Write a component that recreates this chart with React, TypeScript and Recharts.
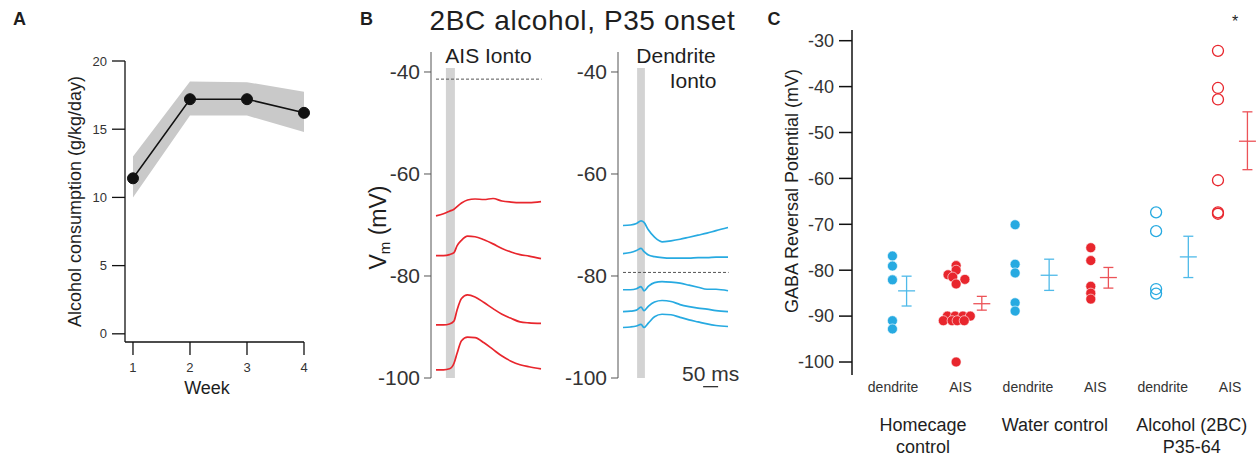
import React from 'react';
import {
  Area, ComposedChart, ErrorBar, Label, Line, LineChart, ReferenceArea, ReferenceLine,
  Scatter, ScatterChart, XAxis, YAxis,
} from 'recharts';

const FONT = '"Liberation Sans", Arial, Helvetica, sans-serif';
const INK = '#1e1e1e';
const RED = '#e8262d';
const BLUE = '#27aae1';
const RED_LIGHT = '#ec5358';
const BLUE_LIGHT = '#4fbae9';

// A: 2BC alcohol intake per week
const weeks = [1, 2, 3, 4];
const consumption = [11.4, 17.2, 17.2, 16.2];
const consumptionLow = [10.0, 16.0, 16.0, 14.8];
const consumptionHigh = [13.0, 18.5, 18.45, 17.75];
const consumptionTicks = [0, 5, 10, 15, 20];

// B: example iontophoresis traces, time in ms, Vm in mV
const traceTimes = [0, 25, 45, 60, 70, 85, 105, 130, 160, 190, 220, 250, 280, 310, 350];
const aisTraces = [
  [-68.2, -67.8, -67.3, -66.9, -66.4, -65.7, -65.1, -64.9, -65.0, -64.8, -65.3, -65.5, -65.6, -65.6, -65.4],
  [-76.0, -76.0, -75.8, -75.4, -74.1, -73.0, -72.2, -72.3, -72.9, -73.7, -74.6, -75.3, -75.8, -76.1, -76.6],
  [-89.6, -89.6, -89.4, -88.8, -86.7, -84.4, -83.7, -84.1, -85.2, -86.4, -87.5, -88.3, -89.0, -89.2, -89.3],
  [-98.4, -98.4, -98.2, -97.1, -95.2, -92.7, -92.0, -92.1, -93.1, -94.4, -95.7, -96.7, -97.4, -97.8, -98.2],
];
const dendriteTraces = [
  [-70.1, -70.0, -69.7, -69.2, -69.5, -71.0, -72.4, -73.3, -73.1, -72.8, -72.4, -72.0, -71.6, -71.1, -70.5],
  [-75.6, -75.4, -75.0, -74.6, -75.2, -75.9, -76.2, -76.4, -76.5, -76.5, -76.5, -76.4, -76.4, -76.3, -76.3],
  [-82.7, -82.7, -82.5, -82.1, -82.9, -82.0, -81.3, -81.1, -81.2, -81.4, -81.8, -82.2, -82.6, -82.6, -82.9],
  [-87.0, -86.9, -86.7, -86.1, -86.8, -85.9, -85.1, -84.8, -85.0, -85.6, -86.0, -86.3, -86.5, -86.8, -87.0],
  [-90.1, -90.0, -89.8, -89.5, -90.1, -89.2, -88.0, -87.5, -87.6, -88.1, -88.6, -89.0, -89.4, -89.7, -89.9],
];
const aisReversal = -41.4;
const dendriteReversal = -79.3;
const aisIontoWindow = [33, 63];
const dendriteIontoWindow = [47, 73];
const vmTicks = [-100, -80, -60, -40];

// C: GABA reversal potential per cell
const slotLabels = ['dendrite', 'AIS', 'dendrite', 'AIS', 'dendrite', 'AIS'];
const groupLabels = [['Homecage', 'control'], ['Water control'], ['Alcohol (2BC)', 'P35-64']];
const homecageDendrite = [-76.9, -79.1, -82.1, -91.0, -92.8];
const homecageAis = [-79.0, -80.0, -81.0, -81.5, -82.0, -83.0, -90.0, -90.0, -90.0, -90.0, -91.0, -91.0, -91.0, -91.0, -100.0];
const waterDendrite = [-70.1, -78.7, -80.6, -87.1, -88.9];
const waterAis = [-75.1, -77.9, -83.5, -85.0, -86.3];
const alcoholDendrite = [-67.4, -71.5, -84.1, -85.1];
const alcoholAis = [-32.2, -40.3, -42.8, -60.4, -67.4, -67.7];
const groupMeans = [-84.5, -87.3, -81.1, -81.6, -77.1, -51.9];
const groupSemHigh = [-81.3, -85.7, -77.6, -79.4, -72.6, -45.5];
const groupSemLow = [-87.8, -88.7, -84.4, -83.9, -81.6, -58.1];
const gabaTicks = [-100, -90, -80, -70, -60, -50, -40, -30];

// layout of panel C (slot units)
const pointOffset = [-0.01, -0.065, -0.19, -0.067, -0.098, -0.18];
const meanOffset = [0.2, 0.316, 0.315, 0.194, 0.38, 0.257];
const homecageAisJitter = [0, 0, -0.12, -0.05, 0.13, 0, -0.13, -0.015, 0.1, 0.21, -0.19, -0.06, 0.015, 0.12, 0];
const groupCenters = [0.445, 2.4, 4.43];
const slotTicks = [0, 1, 2, 3, 4, 5];

const weekData = weeks.map((w, i) => ({
  week: w,
  mean: consumption[i],
  band: [consumptionLow[i], consumptionHigh[i]],
}));

const toRows = (traces: number[][]) =>
  traceTimes.map((t, i) => {
    const row: Record<string, number> = { t };
    traces.forEach((tr, k) => { row[`v${k}`] = tr[i]; });
    return row;
  });

function AxisTitle(props: any) {
  const { viewBox, text, px = 0, py = 0, rot = 0, fs = 16 } = props;
  if (!viewBox) return null;
  const x = viewBox.x + viewBox.width / 2 + px;
  const y = viewBox.y + viewBox.height / 2 + py;
  return (
    <text x={x} y={y} transform={rot ? `rotate(${rot} ${x} ${y})` : undefined}
      textAnchor="middle" dominantBaseline="central" fontSize={fs} fill={INK}>
      {text}
    </text>
  );
}

function VmTitle(props: any) {
  const vb = props.viewBox;
  if (!vb) return null;
  const x = vb.x + vb.width / 2 - 12.5;
  const y = vb.y + vb.height / 2 + 12.5;
  return (
    <text x={x} y={y} transform={`rotate(-90 ${x} ${y})`} textAnchor="middle"
      dominantBaseline="central" fontSize={23} fill={INK}>
      V<tspan fontSize={15} dy={6}>m</tspan><tspan dy={-6}> (mV)</tspan>
    </text>
  );
}

// slot ticks carry "dendrite"/"AIS"; group ticks carry the condition names one row lower
function CategoryTick(props: any) {
  const { x, y, payload } = props;
  const gi = groupCenters.indexOf(payload.value);
  if (gi < 0) {
    return (
      <text x={x} y={y} dy="0.71em" textAnchor="middle" fontSize={14} fill="#333">
        {slotLabels[payload.value] ?? ''}
      </text>
    );
  }
  return (
    <text x={x} y={y + 36} textAnchor="middle" fontSize={18} fill={INK}>
      {groupLabels[gi].map((l, i) => (
        <tspan key={i} x={x} dy={i === 0 ? '0.71em' : 22}>{l}</tspan>
      ))}
    </text>
  );
}

function Note({ x, y, size, bold, ls, children }: any) {
  return (
    <div style={{
      position: 'absolute', left: x, top: y, transform: 'translate(-50%, -50%)',
      fontSize: size, fontWeight: bold ? 700 : 400, lineHeight: 1, whiteSpace: 'nowrap',
      letterSpacing: ls, color: INK,
    }}>{children}</div>
  );
}

function TracePanel({ traces, color, reversal, win, showTitle, scaleBar }: any) {
  const rows = toRows(traces);
  return (
    <LineChart width={245} height={400} data={rows} margin={{ top: 52, right: 50, bottom: 22, left: 0 }}>
      <XAxis dataKey="t" type="number" domain={[-16.7, 363.3]} hide height={0} />
      <YAxis type="number" domain={[-100, -36.08]} ticks={vmTicks} width={81}
        tickSize={7} tickMargin={4} stroke="#555" tick={{ fontSize: 21, fill: '#333' }}>
        {showTitle && <Label content={<VmTitle />} />}
      </YAxis>
      <ReferenceArea x1={win[0]} x2={win[1]} y1={-100} y2={-39.2} fill="#d3d3d3" fillOpacity={1} stroke="none" />
      <ReferenceLine segment={[{ x: 0, y: reversal }, { x: 352, y: reversal }]} stroke="#555" strokeDasharray="3 2" />
      {traces.map((_: number[], k: number) => (
        <Line key={k} dataKey={`v${k}`} type="monotone" stroke={color} strokeWidth={1.7}
          dot={false} isAnimationActive={false} />
      ))}
      {scaleBar && (
        <ReferenceLine segment={[{ x: 267, y: -101.7 }, { x: 317, y: -101.7 }]} ifOverflow="visible"
          stroke="#333" strokeWidth={1.3}>
          <Label value="50 ms" position="top" offset={6} fontSize={21} fill="#333" />
        </ReferenceLine>
      )}
    </LineChart>
  );
}

const dotShape = (color: string, open: boolean) => (p: any) =>
  open
    ? <circle cx={p.cx} cy={p.cy} r={5.5} fill="#fff" fillOpacity={0} stroke={color} strokeWidth={1.3} />
    : <circle cx={p.cx} cy={p.cy} r={5} fill={color} stroke="#fff" strokeWidth={0.6} />;

const meanShape = (color: string) => (p: any) =>
  <line x1={p.cx - 8.5} x2={p.cx + 8.5} y1={p.cy} y2={p.cy} stroke={color} strokeWidth={1.3} />;

export default function App() {
  const groups = [
    { values: homecageDendrite, color: BLUE, open: false },
    { values: homecageAis, color: RED, open: false, jitter: homecageAisJitter },
    { values: waterDendrite, color: BLUE, open: false },
    { values: waterAis, color: RED, open: false },
    { values: alcoholDendrite, color: BLUE, open: true },
    { values: alcoholAis, color: RED, open: true },
  ];
  const meanRows = groupMeans.map((m, i) => ({
    x: i + meanOffset[i],
    y: m,
    err: [m - groupSemLow[i], groupSemHigh[i] - m],
  }));
  const categoryTicks = [...slotTicks, ...groupCenters].sort((a, b) => a - b);

  return (
    <div style={{
      position: 'absolute', left: 0, top: 0, width: 1257, height: 458, background: '#fff',
      overflow: 'hidden', fontFamily: FONT, color: INK,
    }}>
      <Note x={19.5} y={18.5} size={18} bold>A</Note>
      <Note x={366.5} y={18.5} size={18} bold>B</Note>
      <Note x={774} y={18.5} size={18} bold>C</Note>
      <Note x={582.5} y={21} size={28} ls="0.6px">2BC alcohol, P35 onset</Note>
      <Note x={488.5} y={54.5} size={21}>AIS Ionto</Note>
      <Note x={676} y={54.5} size={21}>Dendrite</Note>
      <Note x={693} y={79.5} size={21}>Ionto</Note>
      <Note x={1235} y={22} size={16}>*</Note>

      <div style={{ position: 'absolute', left: 0, top: 0 }}>
        <ComposedChart width={330} height={420} data={weekData} margin={{ top: 61, right: 26, bottom: 18, left: 0 }}>
          <XAxis dataKey="week" type="number" domain={[0.86, 4]} ticks={weeks} height={60}
            tickSize={13} tickMargin={8} axisLine={{ stroke: '#111', strokeWidth: 1.3 }}
            tickLine={{ stroke: '#111', strokeWidth: 1.3 }} tick={{ fontSize: 13, fill: '#333' }}>
            <Label content={<AxisTitle text="Week" px={-7.5} py={16} fs={18} />} />
          </XAxis>
          <YAxis type="number" domain={[-0.6, 20]} ticks={consumptionTicks} width={125}
            tickSize={13} tickMargin={5} axisLine={{ stroke: '#111', strokeWidth: 1.3 }}
            tickLine={{ stroke: '#111', strokeWidth: 1.3 }} tick={{ fontSize: 13, fill: '#333' }}>
            <Label content={<AxisTitle text="Alcohol consumption (g/kg/day)" rot={-90} px={12.5} fs={18} />} />
          </YAxis>
          <Area dataKey="band" type="linear" stroke="none" fill="#c9c9c9" fillOpacity={1} isAnimationActive={false} />
          <Line dataKey="mean" type="linear" stroke="#111" strokeWidth={1.5}
            dot={{ r: 5.5, fill: '#111', stroke: '#111', strokeWidth: 1 }} isAnimationActive={false} />
        </ComposedChart>
      </div>

      <div style={{ position: 'absolute', left: 350, top: 0 }}>
        <TracePanel traces={aisTraces} color={RED} reversal={aisReversal} win={aisIontoWindow} showTitle />
      </div>
      <div style={{ position: 'absolute', left: 537, top: 0 }}>
        <TracePanel traces={dendriteTraces} color={BLUE} reversal={dendriteReversal} win={dendriteIontoWindow} scaleBar />
      </div>

      <div style={{ position: 'absolute', left: 770, top: 0 }}>
        <ScatterChart width={487} height={458} margin={{ top: 30, right: 6, bottom: 0, left: 0 }}>
          <XAxis xAxisId="slot" dataKey="x" type="number" domain={[-0.61, 5.31]} ticks={categoryTicks}
            interval={0} axisLine={false} tickLine={false} tickSize={5} tickMargin={2} height={83}
            tick={<CategoryTick />} />
          <YAxis dataKey="y" type="number" domain={[-102.83, -27.67]} ticks={gabaTicks} width={82}
            tickSize={13} tickMargin={5} axisLine={{ stroke: '#111', strokeWidth: 1.5 }}
            tickLine={{ stroke: '#111', strokeWidth: 1.5 }} tick={{ fontSize: 18, fill: '#333' }}>
            <Label content={<AxisTitle text="GABA Reversal Potential (mV)" rot={-90} px={-19} py={-11.5} fs={18} />} />
          </YAxis>
          {groups.map((g, i) => (
            <Scatter key={i} xAxisId="slot"
              data={g.values.map((v, k) => ({ x: i + pointOffset[i] + (g.jitter ? g.jitter[k] : 0), y: v }))}
              shape={dotShape(g.color, g.open)} isAnimationActive={false} />
          ))}
          <Scatter xAxisId="slot" data={meanRows.filter((_, i) => i % 2 === 0)} shape={meanShape(BLUE_LIGHT)} isAnimationActive={false}>
            <ErrorBar dataKey="err" direction="y" width={5} stroke={BLUE_LIGHT} strokeWidth={1.3} isAnimationActive={false} />
          </Scatter>
          <Scatter xAxisId="slot" data={meanRows.filter((_, i) => i % 2 === 1)} shape={meanShape(RED_LIGHT)} isAnimationActive={false}>
            <ErrorBar dataKey="err" direction="y" width={5} stroke={RED_LIGHT} strokeWidth={1.3} isAnimationActive={false} />
          </Scatter>
        </ScatterChart>
      </div>
    </div>
  );
}
